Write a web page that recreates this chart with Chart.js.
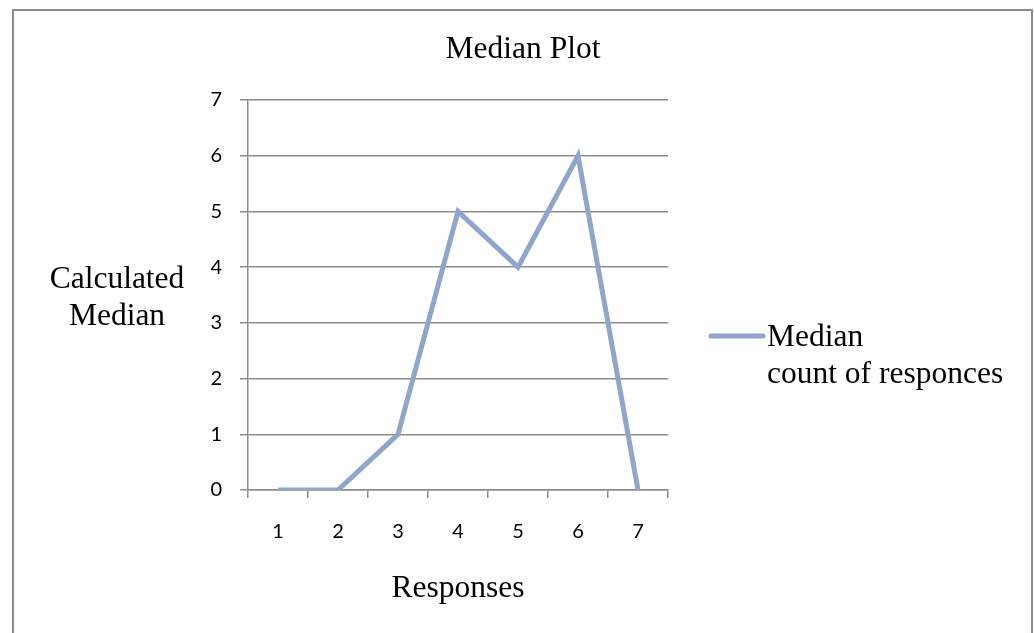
<!DOCTYPE html>
<html>
<head>
<meta charset="utf-8">
<script src="https://cdn.jsdelivr.net/npm/chart.js@4"></script>
<style>
  html, body { margin: 0; padding: 0; background: #fff; overflow: hidden; }
  #frame {
    position: absolute; left: 12px; top: 9px; width: 1017px; height: 640px;
    border: 2px solid #8c8c8c; border-bottom: none;
  }
  #wrap { position: absolute; left: 0; top: 0; width: 1034px; height: 633px; }
</style>
</head>
<body>
<div id="frame"></div>
<div id="wrap"><canvas id="chart" width="1034" height="633"></canvas></div>
<script>
const categories = ['1', '2', '3', '4', '5', '6', '7'];
const medianValues = [0, 0, 1, 5, 4, 6, 0];
const yMin = 0;
const yMax = 7;
const chartTitle = 'Median Plot';
const xTitle = 'Responses';
const yTitle = ['Calculated', 'Median'];
const legendLines = ['Median', 'count of responces'];

const lineColor = '#8ea5cd';
const gridColor = '#8c8c8c';

// textes autour du graphique (titre, axes, légende)
const textPlugin = {
    id: 'textPlugin',
    afterDraw(chart) {
        const ctx = chart.ctx;
        const area = chart.chartArea;
        ctx.save();
        ctx.fillStyle = '#000';
        ctx.textBaseline = 'middle';

        ctx.font = '31.5px "Liberation Serif", serif';
        ctx.textAlign = 'center';
        ctx.fillText(chartTitle, 523, 50);

        ctx.fillText(xTitle, (area.left + area.right) / 2, 589);
        ctx.fillText(yTitle[0], 117, 280);
        ctx.fillText(yTitle[1], 117, 317);

        // légende
        ctx.strokeStyle = lineColor;
        ctx.lineWidth = 5;
        ctx.lineCap = 'round';
        ctx.beginPath();
        ctx.moveTo(711, 336);
        ctx.lineTo(763, 336);
        ctx.stroke();
        ctx.textAlign = 'left';
        ctx.fillText(legendLines[0], 767, 338);
        ctx.fillText(legendLines[1], 767, 375);
        ctx.restore();
    }
};

new Chart(document.getElementById('chart').getContext('2d'), {
    type: 'line',
    data: {
        labels: categories,
        datasets: [{
            label: legendLines.join(' '),
            data: medianValues,
            borderColor: lineColor,
            borderWidth: 5,
            pointRadius: 0,
            tension: 0,
            borderJoinStyle: 'miter'
        }]
    },
    options: {
        responsive: false,
        animation: false,
        layout: { padding: { left: 0, right: 366, top: 100, bottom: 0 } },
        plugins: {
            legend: { display: false },
            title: { display: false },
            tooltip: { enabled: false }
        },
        scales: {
            x: {
                offset: true,
                grid: {
                    offset: true,
                    drawOnChartArea: false,
                    drawTicks: true,
                    tickLength: 8,
                    color: gridColor,
                    lineWidth: 1.5
                },
                border: { color: gridColor, width: 1.5 },
                ticks: {
                    color: '#000',
                    font: { family: 'Lato', size: 20 },
                    padding: 22,
                    maxRotation: 0
                },
                afterFit(scale) { scale.height = 633 - 490; }
            },
            y: {
                min: yMin,
                max: yMax,
                grid: {
                    color: gridColor,
                    lineWidth: 1.5,
                    tickLength: 8
                },
                border: { color: gridColor, width: 1.5 },
                ticks: {
                    stepSize: 1,
                    color: '#000',
                    font: { family: 'Lato', size: 20 },
                    padding: 18
                },
                afterFit(scale) { scale.width = 248; }
            }
        }
    },
    plugins: [textPlugin]
});
</script>
</body>
</html>
